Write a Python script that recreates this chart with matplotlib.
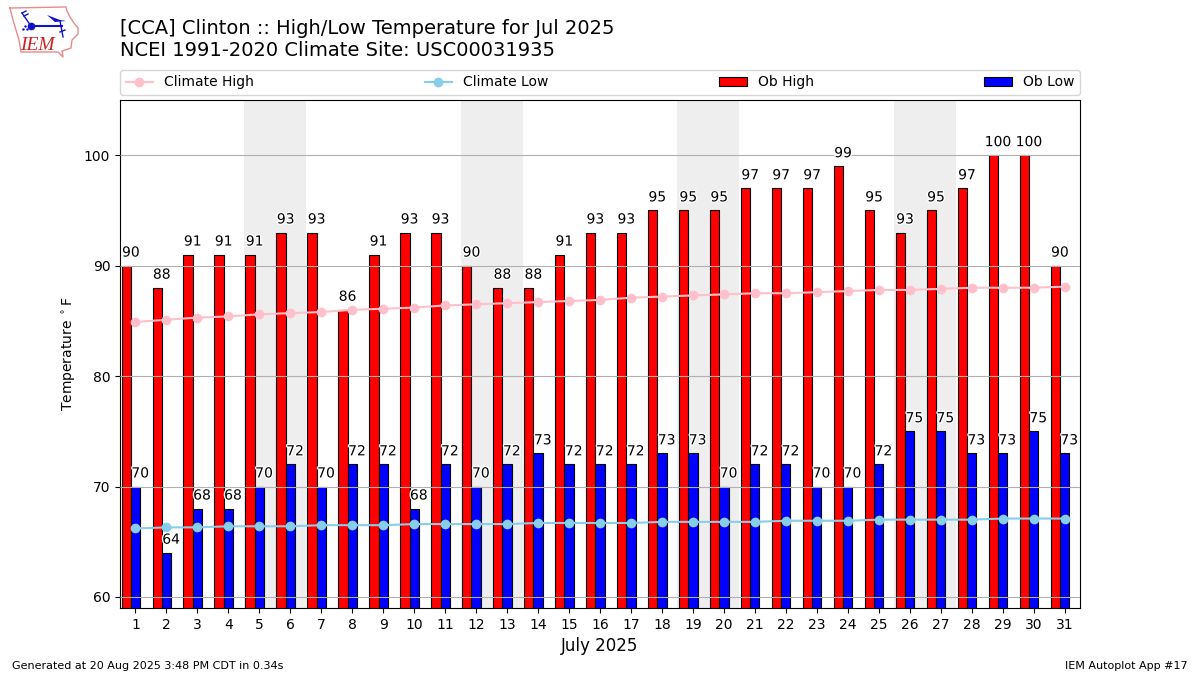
"""
Clinton daily high/low temperature against climatology, July 2025.
"""
import matplotlib
matplotlib.use("Agg")
import matplotlib.pyplot as plt
import matplotlib.patheffects as PathEffects
import numpy as np

days = list(range(1, 32))
ob_high = [90, 88, 91, 91, 91, 93, 93, 86, 91, 93, 93, 90, 88, 88, 91, 93,
           93, 95, 95, 95, 97, 97, 97, 99, 95, 93, 95, 97, 100, 100, 90]
ob_low = [70, 64, 68, 68, 70, 72, 70, 72, 72, 68, 72, 70, 72, 73, 72, 72,
          72, 73, 73, 70, 72, 72, 70, 70, 72, 75, 75, 73, 73, 75, 73]
climate_high = [84.9, 85.1, 85.3, 85.4, 85.6, 85.7, 85.8, 86.0, 86.1, 86.2, 86.4,
                86.5, 86.6, 86.7, 86.8, 86.9, 87.1, 87.2, 87.3, 87.4, 87.5, 87.5,
                87.6, 87.7, 87.8, 87.8, 87.9, 88.0, 88.0, 88.0, 88.1]
climate_low = [66.2, 66.3, 66.3, 66.4, 66.4, 66.4, 66.5, 66.5, 66.5, 66.6, 66.6,
               66.6, 66.6, 66.7, 66.7, 66.7, 66.7, 66.8, 66.8, 66.8, 66.8, 66.9,
               66.9, 66.9, 67.0, 67.0, 67.0, 67.0, 67.1, 67.1, 67.1]
weekends = [(5, 6), (12, 13), (19, 20), (26, 27)]

# logo outline, in logo pixel coords
iowa_x = [10, 66, 67, 70, 74, 78, 78, 72, 71, 62, 63, 58, 21, 19, 16, 13, 10]
iowa_y = [8, 7, 11, 17, 23, 28, 34, 40, 48, 51, 57, 52, 52, 40, 30, 20, 8]


def draw_logo(fig):
    ax = fig.add_axes([0, 1 - 60 / 675, 85 / 1200, 60 / 675])
    ax.set_xlim(0, 85)
    ax.set_ylim(60, 0)
    ax.axis("off")
    blue = "#1111cc"
    ax.plot(iowa_x, iowa_y, color="#e88a8a", lw=1)
    ax.plot([31, 62], [26, 26], color=blue, lw=1.5)
    ax.plot([31], [26], "o", color=blue, ms=4.5)
    ax.plot([22, 31], [13, 26], color=blue, lw=1)
    ax.plot([22, 26], [13, 11], color=blue, lw=1)
    ax.plot([24, 28], [16, 14], color=blue, lw=1)
    ax.fill([47, 60, 66, 55], [15, 20, 21, 22], color=blue, lw=0)
    ax.plot([60, 63], [21, 37], color=blue, lw=1)
    ax.plot([60, 65], [32, 30], color=blue, lw=1)
    ax.plot([23, 25, 27], [29, 26, 29], ".", color=blue, ms=1.5)
    ax.text(37, 45, "IEM", color="#cc2222", fontsize=14, style="italic",
            family="Liberation Serif", ha="center", va="center")


def main():
    fig = plt.figure(figsize=(12, 6.75), dpi=100)
    ax = fig.add_axes([0.1, 1 - 608 / 675, 0.8, 508 / 675])

    x = np.array(days)
    for start, end in weekends:
        ax.axvspan(start - 0.5, end + 0.5, color="#eeeeee", lw=0, zorder=0)

    high_bars = ax.bar(x - 0.3, ob_high, width=0.3, color="red", edgecolor="black",
                       linewidth=0.8, label="Ob High", zorder=2)
    low_bars = ax.bar(x, ob_low, width=0.3, color="blue", edgecolor="black",
                      linewidth=0.8, label="Ob Low", zorder=2)
    ax.plot(x, climate_high, "-o", color="pink", ms=6, lw=1.5, label="Climate High", zorder=4)
    ax.plot(x, climate_low, "-o", color="skyblue", ms=6, lw=1.5, label="Climate Low", zorder=4)

    for bars, values in ((high_bars, ob_high), (low_bars, ob_low)):
        for bar, val in zip(bars, values):
            ax.text(bar.get_x() + bar.get_width() / 2 + 0.15, val + 0.55, f"{val}",
                    ha="center", va="bottom", fontsize=10, color="black", zorder=5,
                    path_effects=[PathEffects.withStroke(linewidth=2, foreground="white")])

    ax.set_xlim(0.5, 31.5)
    ax.set_ylim(59, 105)
    ax.set_xticks(days)
    ax.set_yticks([60, 70, 80, 90, 100])
    ax.grid(True, axis="y", color="#b0b0b0", lw=0.8, zorder=3)
    ax.set_axisbelow(False)
    ax.set_xlabel("July 2025", fontsize=12, labelpad=3.5)
    ax.set_ylabel(r"Temperature $^\circ$F", fontsize=10)

    handles, labels = ax.get_legend_handles_labels()
    order = [labels.index(n) for n in ("Climate High", "Climate Low", "Ob High", "Ob Low")]
    ax.legend([handles[i] for i in order], [labels[i] for i in order], ncol=4,
              mode="expand", loc="lower left", bbox_to_anchor=(0, 1.01, 1, 0.05),
              borderaxespad=0, fontsize=10)

    fig.text(120 / 1200, 1 - 40 / 675, "[CCA] Clinton :: High/Low Temperature for Jul 2025\n"
             "NCEI 1991-2020 Climate Site: USC00031935", fontsize=14, va="center", ha="left")
    fig.text(12 / 1200, 1 - 666 / 675, "Generated at 20 Aug 2025 3:48 PM CDT in 0.34s",
             fontsize=8, va="center")
    fig.text(1188 / 1200, 1 - 666 / 675, "IEM Autoplot App #17", fontsize=8, va="center", ha="right")

    draw_logo(fig)
    fig.savefig("out.png", dpi=100)
    plt.close(fig)


if __name__ == "__main__":
    main()
